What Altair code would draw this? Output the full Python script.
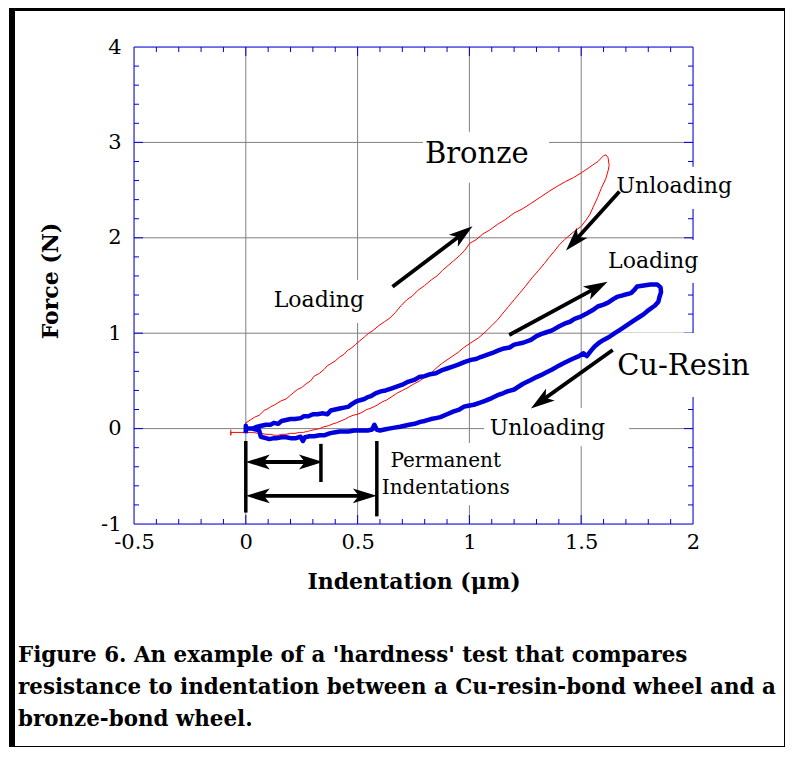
import math
import altair as alt
import pandas as pd

W, H = 559, 477
X_DOMAIN = [-0.5, 2.0]
Y_DOMAIN = [-1.0, 4.0]
KX = W / (X_DOMAIN[1] - X_DOMAIN[0])
KY = H / (Y_DOMAIN[1] - Y_DOMAIN[0])

SERIF = "DejaVu Serif"
BLUE = "#0000dd"
RED = "#ff0000"
GRID = "#808080"

# ---------------- data ----------------
bronze_x = [0.0, 0.0, 0.02, 0.04, 0.06, 0.082, 0.10, 0.112, 0.13, 0.157, 0.18, 0.20, 0.215, 0.231, 0.25,
            0.27, 0.29, 0.306, 0.33, 0.35, 0.365, 0.38, 0.40, 0.42, 0.44, 0.455, 0.47, 0.49, 0.51, 0.53,
            0.55, 0.57, 0.595, 0.62, 0.645, 0.67, 0.695, 0.72, 0.745, 0.77, 0.80, 0.83, 0.855, 0.88,
            0.905, 0.93, 0.955, 0.98, 1.0, 1.03, 1.06, 1.09, 1.125, 1.16, 1.20, 1.235, 1.275, 1.32,
            1.365, 1.40, 1.43, 1.465, 1.50, 1.525, 1.55, 1.575, 1.60, 1.61, 1.62, 1.625, 1.62, 1.61,
            1.59, 1.573, 1.555, 1.54, 1.52, 1.50, 1.46, 1.425, 1.40, 1.38, 1.355, 1.335, 1.31, 1.28,
            1.25, 1.225, 1.20, 1.175, 1.15, 1.126, 1.10, 1.07, 1.04, 1.007, 0.975, 0.95, 0.925, 0.90,
            0.875, 0.85, 0.828, 0.81, 0.79, 0.77, 0.753, 0.725, 0.70, 0.675, 0.65, 0.63, 0.61, 0.59,
            0.574, 0.555, 0.54, 0.52, 0.50, 0.48, 0.46, 0.445, 0.425, 0.405, 0.39, 0.37, 0.35, 0.33,
            0.31, 0.29, 0.276, 0.255, 0.24, 0.22, 0.20, 0.18, 0.16, 0.145, 0.127, 0.11, 0.09, 0.07,
            0.052, 0.035, 0.02, 0.0, -0.067, -0.067, -0.067]
bronze_y = [-0.05, 0.06, 0.09, 0.12, 0.14, 0.19, 0.21, 0.23, 0.25, 0.29, 0.31, 0.35, 0.38, 0.41, 0.43,
            0.47, 0.50, 0.55, 0.58, 0.62, 0.66, 0.68, 0.71, 0.75, 0.78, 0.82, 0.84, 0.88, 0.92, 0.96,
            1.00, 1.03, 1.08, 1.12, 1.16, 1.22, 1.29, 1.35, 1.39, 1.45, 1.50, 1.56, 1.60, 1.66,
            1.71, 1.76, 1.81, 1.87, 1.94, 1.98, 2.04, 2.08, 2.14, 2.19, 2.26, 2.30, 2.36, 2.43,
            2.50, 2.55, 2.59, 2.63, 2.68, 2.72, 2.76, 2.80, 2.86, 2.87, 2.84, 2.76, 2.70, 2.62,
            2.52, 2.42, 2.33, 2.25, 2.18, 2.12, 2.05, 1.98, 1.92, 1.86, 1.79, 1.73, 1.66, 1.58,
            1.49, 1.42, 1.35, 1.28, 1.21, 1.14, 1.08, 1.01, 0.95, 0.90, 0.85, 0.80, 0.76, 0.72,
            0.68, 0.63, 0.58, 0.55, 0.52, 0.49, 0.47, 0.43, 0.40, 0.37, 0.33, 0.30, 0.28, 0.25,
            0.23, 0.21, 0.20, 0.17, 0.15, 0.14, 0.12, 0.10, 0.08, 0.06, 0.05, 0.03, 0.02, 0.00,
            -0.01, -0.02, -0.03, -0.04, -0.04, -0.05, -0.05, -0.06, -0.06, -0.07, -0.07, -0.06, -0.06, -0.05,
            -0.05, -0.04, -0.04, -0.04, -0.04, -0.07, -0.01]

resin_x = [0.0, 0.0, 0.0, 0.03, 0.052, 0.07, 0.09, 0.11, 0.126, 0.145, 0.16, 0.18, 0.20, 0.22, 0.246,
           0.26, 0.28, 0.30, 0.32, 0.345, 0.365, 0.38, 0.40, 0.42, 0.44, 0.46, 0.47, 0.49, 0.50, 0.515,
           0.53, 0.545, 0.56, 0.58, 0.604, 0.625, 0.65, 0.675, 0.70, 0.725, 0.753, 0.775, 0.80, 0.825,
           0.85, 0.875, 0.90, 0.925, 0.95, 0.98, 1.007, 1.03, 1.05, 1.075, 1.10, 1.13, 1.155, 1.18,
           1.20, 1.24, 1.275, 1.30, 1.32, 1.345, 1.37, 1.40, 1.425, 1.45, 1.47, 1.495, 1.52, 1.55,
           1.574, 1.60, 1.62, 1.645, 1.66, 1.69, 1.723, 1.74, 1.75, 1.78, 1.81, 1.84, 1.855, 1.857,
           1.85, 1.845, 1.83, 1.80, 1.78, 1.76, 1.74, 1.715, 1.69, 1.67, 1.65, 1.625, 1.60, 1.58,
           1.56, 1.545, 1.525, 1.51, 1.49, 1.46, 1.425, 1.40, 1.37, 1.345, 1.32, 1.30, 1.275, 1.24,
           1.20, 1.17, 1.15, 1.126, 1.10, 1.07, 1.045, 1.02, 0.995, 0.976, 0.955, 0.93, 0.90, 0.87,
           0.85, 0.828, 0.80, 0.78, 0.755, 0.73, 0.71, 0.69, 0.665, 0.64, 0.62, 0.60, 0.585, 0.575,
           0.565, 0.545, 0.515, 0.485, 0.46, 0.44, 0.42, 0.395, 0.375, 0.35, 0.33, 0.305, 0.285,
           0.265, 0.255, 0.245, 0.225, 0.20, 0.18, 0.16, 0.14, 0.126, 0.105, 0.09, 0.067, 0.06,
           0.03, 0.0]
resin_y = [-0.05, 0.03, 0.0, 0.0, 0.02, 0.03, 0.04, 0.04, 0.06, 0.05, 0.08, 0.09, 0.10, 0.10, 0.11,
           0.13, 0.13, 0.15, 0.15, 0.16, 0.15, 0.19, 0.20, 0.21, 0.22, 0.23, 0.25, 0.28, 0.29, 0.30,
           0.31, 0.33, 0.34, 0.37, 0.39, 0.40, 0.42, 0.44, 0.46, 0.49, 0.51, 0.54, 0.55, 0.57,
           0.58, 0.61, 0.63, 0.65, 0.67, 0.70, 0.72, 0.73, 0.75, 0.77, 0.79, 0.82, 0.84, 0.85,
           0.88, 0.90, 0.93, 0.97, 0.99, 1.01, 1.03, 1.07, 1.10, 1.12, 1.15, 1.17, 1.20, 1.24,
           1.28, 1.30, 1.32, 1.36, 1.38, 1.40, 1.42, 1.46, 1.49, 1.50, 1.51, 1.51, 1.48, 1.43,
           1.38, 1.33, 1.29, 1.24, 1.20, 1.17, 1.14, 1.10, 1.06, 1.03, 1.00, 0.96, 0.93, 0.90,
           0.86, 0.82, 0.76, 0.79, 0.76, 0.73, 0.69, 0.66, 0.62, 0.59, 0.56, 0.54, 0.51, 0.47,
           0.41, 0.39, 0.37, 0.35, 0.32, 0.29, 0.27, 0.25, 0.24, 0.23, 0.20, 0.18, 0.15, 0.12,
           0.11, 0.10, 0.08, 0.07, 0.05, 0.04, 0.03, 0.02, 0.01, 0.00, -0.01, -0.02, -0.01, 0.04,
           -0.01, -0.02, -0.02, -0.02, -0.03, -0.03, -0.03, -0.04, -0.05, -0.07, -0.07, -0.08, -0.08,
           -0.09, -0.13, -0.085, -0.10, -0.10, -0.09, -0.09, -0.10, -0.10, -0.11, -0.10, -0.085, -0.02,
           0.0, 0.0]

x_tick_values = [-0.5, 0, 0.5, 1, 1.5, 2]
y_tick_values = [-1, 0, 1, 2, 3, 4]
x_grid = [0, 0.5, 1, 1.5]
y_grid = [0, 1, 2, 3]

label_text = ["Bronze", "Loading", "Unloading", "Loading", "Cu-Resin", "Unloading",
              "Permanent", "Indentations"]
label_x = [1.033, 0.327, 1.916, 1.822, 1.957, 1.349, 0.894, 0.894]
label_y = [2.78, 1.277, 2.472, 1.679, 0.561, -0.068, -0.404, -0.69]
label_size = [29, 22, 22, 22, 29, 22, 20, 20]

box_x1 = [0.792, 0.103, 1.633, 1.597, 1.633, 1.065, 0.582]
box_x2 = [1.356, 0.550, 2.206, 2.045, 2.268, 1.714, 1.177]
box_y1 = [2.576, 1.107, 2.303, 1.527, 0.331, -0.184, -0.803]
box_y2 = [3.111, 1.558, 2.744, 1.978, 1.002, 0.215, -0.152]

arrow_x1 = [0.656, 1.671, 1.178, 1.641, 0.0, 0.0]
arrow_y1 = [1.488, 2.485, 0.981, 0.824, -0.35, -0.705]
arrow_x2 = [1.014, 1.432, 1.618, 1.275, 0.345, 0.586]
arrow_y2 = [2.12, 1.866, 1.54, 0.212, -0.35, -0.705]
arrow_both = [False, False, False, False, True, True]

bar_x = [0.0, 0.336, 0.586]
bar_y1 = [-0.13, -0.16, -0.13]
bar_y2 = [-0.88, -0.56, -0.92]

caption_lines = ["Figure 6.  An example of a 'hardness' test that compares",
                 "resistance to indentation between a Cu-resin-bond wheel and a",
                 "bronze-bond wheel."]

# ---------------- helpers ----------------
xs = alt.Scale(domain=X_DOMAIN, nice=False, zero=False)
ys = alt.Scale(domain=Y_DOMAIN, nice=False, zero=False)

HEAD_R = 12
HEAD_PATH = "M0,0 L0.62,2 L0,1.5 L-0.62,2 Z"


def unit_screen(dx, dy):
    sx, sy = dx * KX, -dy * KY
    n = math.hypot(sx, sy)
    return sx / n, sy / n


shaft_rows, head_rows = [], []
for x1, y1, x2, y2, both in zip(arrow_x1, arrow_y1, arrow_x2, arrow_y2, arrow_both):
    ux, uy = unit_screen(x2 - x1, y2 - y1)
    ang = math.degrees(math.atan2(ux, -uy)) % 360
    ex = x2 - HEAD_R * ux / KX
    ey = y2 + HEAD_R * uy / KY
    sx, sy = x1, y1
    head_rows.append({"x": x2, "y": y2, "ang": ang})
    if both:
        sx = x1 + HEAD_R * ux / KX
        sy = y1 - HEAD_R * uy / KY
        head_rows.append({"x": x1, "y": y1, "ang": (ang + 180) % 360})
    shaft_rows.append({"x": sx, "y": sy, "x2": ex, "y2": ey})

shaft_df = pd.DataFrame(shaft_rows)
head_df = pd.DataFrame(head_rows)

# inward ticks on all four sides
xt_rows, yt_rows = [], []
for i in range(1, 25):
    v = round(-0.5 + 0.1 * i, 2)
    L = 9 if abs(v * 2 - round(v * 2)) < 1e-9 else 5
    xt_rows.append({"x": v, "y": Y_DOMAIN[0], "y2": Y_DOMAIN[0] + L / KY})
    xt_rows.append({"x": v, "y": Y_DOMAIN[1], "y2": Y_DOMAIN[1] - L / KY})
for i in range(1, 25):
    v = round(-1 + 0.2 * i, 2)
    L = 9 if abs(v - round(v)) < 1e-9 else 5
    yt_rows.append({"y": v, "x": X_DOMAIN[0], "x2": X_DOMAIN[0] + L / KX})
    yt_rows.append({"y": v, "x": X_DOMAIN[1], "x2": X_DOMAIN[1] - L / KX})
xt_df = pd.DataFrame(xt_rows)
yt_df = pd.DataFrame(yt_rows)

one = pd.DataFrame({"a": [0]})

x_axis = alt.Axis(values=x_tick_values, title="Indentation (μm)", grid=False, domain=False,
                  ticks=False, tickSize=0, labelFont=SERIF, labelFontSize=21, labelColor="black",
                  labelPadding=7, labelExpr="'' + datum.value", labelFlush=False,
                  labelOverlap=False, titleFont=SERIF, titleFontSize=22, titleFontWeight="bold",
                  titleColor="black", titleX=W / 2, titleY=64, titleBaseline="alphabetic")
y_axis = alt.Axis(values=y_tick_values, title="Force (N)", grid=False, domain=False,
                  ticks=False, tickSize=0, labelFont=SERIF, labelFontSize=21, labelColor="black",
                  labelPadding=13, labelExpr="'' + datum.value", labelFlush=False,
                  labelOverlap=False, titleFont=SERIF, titleFontSize=22, titleFontWeight="bold",
                  titleColor="black", titleX=-77, titleY=233.5, titleBaseline="alphabetic")


def X(f):
    return alt.X(f, scale=xs, axis=x_axis, title="Indentation (μm)")


def Y(f):
    return alt.Y(f, scale=ys, axis=y_axis, title="Force (N)")


grid_x = alt.Chart(pd.DataFrame({"gx": x_grid})).mark_rule(color=GRID, strokeWidth=1).encode(
    x=X("gx:Q"), y=alt.value(0), y2=alt.value(H))
grid_y = alt.Chart(pd.DataFrame({"gy": y_grid})).mark_rule(color=GRID, strokeWidth=1).encode(
    y=Y("gy:Q"), x=alt.value(0), x2=alt.value(W))

frame = alt.Chart(one).mark_rect(filled=False, stroke=BLUE, strokeWidth=1).encode(
    x=alt.value(0), x2=alt.value(W), y=alt.value(0), y2=alt.value(H))

ticks_x = alt.Chart(xt_df).mark_rule(color=BLUE, strokeWidth=1).encode(
    x=X("x:Q"), y=Y("y:Q"), y2="y2:Q")
ticks_y = alt.Chart(yt_df).mark_rule(color=BLUE, strokeWidth=1).encode(
    x=X("x:Q"), x2="x2:Q", y=Y("y:Q"))

boxes = alt.Chart(pd.DataFrame({"x1": box_x1, "x2": box_x2, "y1": box_y1, "y2": box_y2})).mark_rect(
    color="white").encode(x=X("x1:Q"), x2="x2:Q", y=Y("y1:Q"), y2="y2:Q")

texts = alt.Chart(pd.DataFrame({"t": label_text, "x": label_x, "y": label_y, "fs": label_size})).mark_text(
    font=SERIF, align="center", baseline="alphabetic", color="black").encode(
    x=X("x:Q"), y=Y("y:Q"), text="t:N", size=alt.Size("fs:Q", scale=None, legend=None))

bronze = alt.Chart(pd.DataFrame({"x": bronze_x, "y": bronze_y, "i": range(len(bronze_x))})).mark_line(
    color=RED, strokeWidth=1, strokeJoin="round").encode(x=X("x:Q"), y=Y("y:Q"), order="i:Q")
resin = alt.Chart(pd.DataFrame({"x": resin_x, "y": resin_y, "i": range(len(resin_x))})).mark_line(
    color=BLUE, strokeWidth=4.5, strokeJoin="round").encode(x=X("x:Q"), y=Y("y:Q"), order="i:Q")

bars = alt.Chart(pd.DataFrame({"x": bar_x, "y1": bar_y1, "y2": bar_y2})).mark_rule(
    color="black", strokeWidth=3.5).encode(x=X("x:Q"), y=Y("y1:Q"), y2="y2:Q")
shafts = alt.Chart(shaft_df).mark_rule(color="black", strokeWidth=3.8).encode(
    x=X("x:Q"), y=Y("y:Q"), x2="x2:Q", y2="y2:Q")
heads = alt.Chart(head_df).mark_point(shape=HEAD_PATH, filled=True, color="black", opacity=1,
                                      size=(2 * HEAD_R) ** 2, strokeWidth=0).encode(
    x=X("x:Q"), y=Y("y:Q"), angle=alt.Angle("ang:Q", scale=None))

caption = alt.Chart(one).mark_text(align="left", baseline="top", font=SERIF, fontSize=21.4,
                                   fontWeight="bold", lineHeight=32, color="black").encode(
    x=alt.value(-116), y=alt.value(598), text=alt.value(caption_lines))

page_left = alt.Chart(one).mark_rect(color="black").encode(
    x=alt.value(-125), x2=alt.value(-119), y=alt.value(-39), y2=alt.value(700))
page_top = alt.Chart(one).mark_rect(color="black").encode(
    x=alt.value(-125), x2=alt.value(651), y=alt.value(-39), y2=alt.value(-36))
page_right = alt.Chart(one).mark_rect(color="black").encode(
    x=alt.value(650), x2=alt.value(651), y=alt.value(-39), y2=alt.value(700))
page_bottom = alt.Chart(one).mark_rect(color="black").encode(
    x=alt.value(-125), x2=alt.value(651), y=alt.value(699), y2=alt.value(700))

chart = alt.layer(
    grid_x, grid_y, frame, ticks_x, ticks_y, boxes, texts, bronze, resin,
    bars, shafts, heads, caption, page_left, page_top, page_right, page_bottom
).properties(
    width=W, height=H,
    padding={"left": 126, "top": 39, "right": 93, "bottom": 225},
    autosize=alt.AutoSizeParams(type="none"),
).configure_view(strokeWidth=0).configure(background="white")

chart.save("out.html", embed_options={"renderer": "svg", "actions": False})
